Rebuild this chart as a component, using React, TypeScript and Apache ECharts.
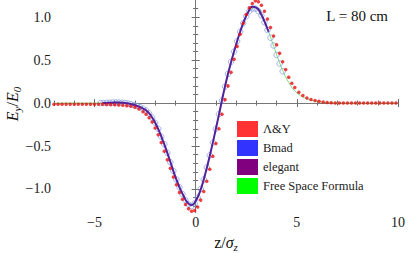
import React, { useEffect, useRef } from "react";
import * as echarts from "echarts";

// A&Y (red dots)
const ayZ = [-7, -6.8, -6.6, -6.4, -6.2, -6, -5.8, -5.6, -5.4, -5.2, -5, -4.8, -4.6, -4.4, -4.2, -4, -3.8, -3.6, -3.4, -3.2, -3, -2.8,
  -2.6, -2.45, -2.3, -2.15, -2.0, -1.85, -1.7, -1.55, -1.4, -1.25, -1.1, -0.95, -0.8, -0.65, -0.5, -0.35, -0.2, -0.05,
  0.1, 0.25, 0.4, 0.55, 0.7, 0.85, 1.0, 1.15, 1.3, 1.45, 1.6, 1.75, 1.9, 2.05, 2.2, 2.35, 2.5, 2.65, 2.8, 2.95,
  3.1, 3.25, 3.4, 3.55, 3.7, 3.85, 4.0, 4.15, 4.3, 4.45, 4.6, 4.75, 4.9,
  5.1, 5.3, 5.5, 5.7, 5.9, 6.1, 6.3, 6.5, 6.7, 6.9, 7.1, 7.3, 7.5, 7.7, 7.9, 8.1, 8.3, 8.5, 8.7, 8.9, 9.1, 9.3, 9.5, 9.7, 9.9];
const ayV = [-0.015, -0.015, -0.015, -0.015, -0.015, -0.015, -0.015, -0.015, -0.015, -0.015, -0.015, -0.015, -0.015, -0.016, -0.018, -0.02, -0.022, -0.025, -0.03, -0.038, -0.05, -0.07,
  -0.1, -0.13, -0.17, -0.22, -0.29, -0.37, -0.46, -0.56, -0.66, -0.76, -0.86, -0.95, -1.04, -1.12, -1.18, -1.23, -1.26, -1.25,
  -1.21, -1.13, -1.03, -0.91, -0.77, -0.62, -0.47, -0.3, -0.13, 0.04, 0.2, 0.36, 0.51, 0.66, 0.8, 0.93, 1.03, 1.11, 1.16, 1.19,
  1.18, 1.14, 1.07, 0.98, 0.88, 0.78, 0.68, 0.58, 0.48, 0.39, 0.3, 0.23, 0.18,
  0.125, 0.088, 0.06, 0.042, 0.03, 0.02, 0.012, 0.007, 0.003, 0.001, 0, 0, 0, 0, 0, 0, 0, 0, 0, 0, 0, 0, 0, 0, 0];

// Bmad (blue open circles)
const bmadZ = [-4.7, -4.55, -4.4, -4.25, -4.1, -3.95, -3.8, -3.65, -3.5, -3.35, -3.2, -3.05, -2.9, -2.75, -2.6, -2.45, -2.3, -2.15,
  -2.0, -1.85, -1.7, -1.55, -1.4, -1.25, -1.1, -0.95, -0.8, -0.65, -0.5, -0.35, -0.2, -0.05, 0.1, 0.25, 0.4, 0.55, 0.7, 0.85,
  1.0, 1.15, 1.3, 1.45, 1.6, 1.75, 1.9, 2.05, 2.2, 2.35, 2.5, 2.65, 2.8, 2.95, 3.1, 3.25, 3.4, 3.55, 3.7, 3.85, 4.0, 4.15, 4.3];
const bmadV = [0, 0, 0.002, 0.004, 0.006, 0.007, 0.006, 0.004, 0.001, -0.005, -0.012, -0.022, -0.033, -0.047, -0.065, -0.087, -0.12, -0.17,
  -0.23, -0.3, -0.39, -0.48, -0.58, -0.69, -0.79, -0.89, -0.98, -1.06, -1.13, -1.18, -1.2, -1.17, -1.1, -1.0, -0.89, -0.75, -0.61, -0.46,
  -0.3, -0.13, 0.03, 0.19, 0.34, 0.48, 0.6, 0.72, 0.83, 0.93, 1.01, 1.07, 1.1, 1.1, 1.07, 1.02, 0.94, 0.85, 0.76, 0.67, 0.56, 0.46, 0.37];

// elegant (purple line)
const elZ = [-4.6, -4.4, -4.2, -4.0, -3.8, -3.6, -3.4, -3.2, -3.0, -2.8, -2.6, -2.4, -2.2, -2.0, -1.8, -1.6, -1.4, -1.2, -1.0, -0.8, -0.6,
  -0.4, -0.2, 0.0, 0.2, 0.4, 0.6, 0.8, 1.0, 1.2, 1.4, 1.6, 1.8, 2.0, 2.2, 2.4, 2.6, 2.8, 3.0, 3.2, 3.4, 3.6];
const elV = [0, 0.002, 0.004, 0.006, 0.006, 0.004, -0.002, -0.012, -0.025, -0.042, -0.065, -0.095, -0.15, -0.23, -0.33, -0.45, -0.58, -0.72, -0.86, -0.98, -1.08,
  -1.16, -1.19, -1.14, -1.04, -0.89, -0.71, -0.51, -0.3, -0.08, 0.14, 0.34, 0.52, 0.68, 0.83, 0.96, 1.06, 1.12, 1.11, 1.05, 0.95, 0.83];

// Free Space Formula (green line)
const fsZ = [-7, -6, -5, -4.6, -4.2, -3.8, -3.4, -3.0, -2.6, -2.2, -1.8, -1.4, -1.0, -0.6, -0.2, 0.2, 0.6, 1.0, 1.4, 1.8, 2.2, 2.6, 3.0,
  3.4, 3.8, 4.2, 4.6, 5.0, 5.4, 5.8, 6.2, 6.6, 7, 8, 9, 10];
const fsV = [0, 0, 0, 0, 0.004, 0.006, -0.002, -0.025, -0.065, -0.15, -0.33, -0.58, -0.86, -1.08, -1.19, -1.04, -0.71, -0.3, 0.14, 0.52, 0.83, 1.06, 1.11,
  0.95, 0.7, 0.44, 0.24, 0.12, 0.06, 0.028, 0.012, 0.005, 0.002, 0, 0, 0];

// ticks
const xMajor = [-5, 0, 5, 10];
const xMinor = [-7, -6, -4, -3, -2, -1, 1, 2, 3, 4, 6, 7, 8, 9];
const yMajor = [-1, -0.5, 0, 0.5, 1];
const yMinor = [-1.2, -1.1, -0.9, -0.8, -0.7, -0.6, -0.4, -0.3, -0.2, -0.1, 0.1, 0.2, 0.3, 0.4, 0.6, 0.7, 0.8, 0.9, 1.1];

const SERIF = "Liberation Serif";
const tickRich = { t: { fontFamily: SERIF, fontSize: 14, color: "#1a1a1a" } };

function zip(a: number[], b: number[]) {
  return a.map((v, i) => [v, b[i]]);
}

function makeX(position: string, vals: number[], len: number, lineColor: string, showLine: boolean, labels: boolean) {
  return {
    type: "value",
    position,
    min: -7,
    max: 10,
    axisLine: { show: showLine, lineStyle: { color: lineColor, width: 1 } },
    axisTick: { show: true, inside: true, length: len, customValues: vals, lineStyle: { color: "#6a6a6a", width: 1 } },
    axisLabel: {
      show: labels,
      customValues: vals,
      margin: 2,
      fontFamily: SERIF,
      fontSize: 14,
      color: "#1a1a1a",
      rich: tickRich,
      formatter: (v: number) => "{t|" + String(v).replace("-", "\u2212") + "}",
    },
    splitLine: { show: false },
  };
}

function makeY(position: string, vals: number[], len: number, lineColor: string, showLine: boolean, labels: boolean) {
  return {
    type: "value",
    position,
    min: -1.28,
    max: 1.2,
    axisLine: { show: showLine, lineStyle: { color: lineColor, width: 1 } },
    axisTick: { show: true, inside: true, length: len, customValues: vals, lineStyle: { color: "#6a6a6a", width: 1 } },
    axisLabel: {
      show: labels,
      customValues: vals,
      margin: 3,
      fontFamily: SERIF,
      fontSize: 14,
      color: "#1a1a1a",
      rich: tickRich,
      formatter: (v: number) => "{t|" + v.toFixed(1).replace("-", "\u2212") + "}",
    },
    splitLine: { show: false },
  };
}

export default function App() {
  const ref = useRef<HTMLDivElement>(null);
  useEffect(() => {
    if (!ref.current) return;
    const chart = echarts.init(ref.current, null, { renderer: "svg" });
    const option: any = {
      animation: false,
      backgroundColor: "#ffffff",
      textStyle: { fontFamily: SERIF },
      grid: { left: 54, right: 17, top: 0, bottom: 40 },
      xAxis: [
        makeX("bottom", xMajor, 4, "#8a8a8a", true, true),
        makeX("bottom", xMinor, 2.5, "#8a8a8a", false, false),
        makeX("top", xMajor, 4, "#eeeeee", true, false),
        makeX("top", xMinor, 2.5, "#eeeeee", false, false),
      ],
      yAxis: [
        makeY("left", yMajor, 4, "#e4e4e4", true, true),
        makeY("left", yMinor, 2.5, "#e4e4e4", false, false),
        makeY("right", yMajor, 4, "#eeeeee", true, false),
        makeY("right", yMinor, 2.5, "#eeeeee", false, false),
      ],
      legend: {
        orient: "vertical",
        left: 232,
        top: 116,
        itemWidth: 21,
        itemHeight: 16,
        itemGap: 3,
        icon: "rect",
        selectedMode: false,
        textStyle: { fontFamily: SERIF, fontSize: 12.5, color: "#222" },
        data: [
          { name: "\u039B&Y", itemStyle: { color: "#ff0000", borderWidth: 0 } },
          { name: "Bmad", itemStyle: { color: "#0000ff", borderWidth: 0 } },
          { name: "elegant", itemStyle: { color: "#800080", borderWidth: 0 } },
          { name: "Free Space Formula", itemStyle: { color: "#00ff00", borderWidth: 0 } },
        ],
      },
      series: [
        {
          name: "Free Space Formula",
          type: "line",
          data: zip(fsZ, fsV),
          symbol: "none",
          smooth: true,
          lineStyle: { color: "#7fdc7f", width: 1 },
          itemStyle: { color: "#00ff00" },
          z: 2,
          markLine: {
            silent: true,
            z: 1,
            symbol: ["none", "none"],
            label: { show: false },
            lineStyle: { color: "#777777", width: 1, type: "solid" },
            data: [{ yAxis: 0 }, { xAxis: 0 }],
          },
        },
        {
          name: "Bmad",
          type: "scatter",
          data: zip(bmadZ, bmadV),
          symbol: "circle",
          symbolSize: 5.5,
          itemStyle: { color: "rgba(0,0,0,0)", borderColor: "#7f97dc", borderWidth: 0.9 },
          z: 3,
        },
        {
          name: "elegant",
          type: "line",
          data: zip(elZ, elV),
          symbol: "none",
          smooth: true,
          lineStyle: { color: "#52229c", width: 2 },
          itemStyle: { color: "#800080" },
          z: 4,
        },
        {
          name: "\u039B&Y",
          type: "scatter",
          data: zip(ayZ, ayV),
          symbol: "circle",
          symbolSize: 3.5,
          itemStyle: { color: "#e81212" },
          z: 5,
        },
      ],
      graphic: [
        {
          type: "text",
          x: 388,
          y: 16,
          style: { text: "L = 80 cm", font: `15px "${SERIF}"`, fill: "#111", align: "right", verticalAlign: "middle" },
        },
        {
          type: "text",
          x: 226,
          y: 242,
          style: {
            text: "{n|z/}{i|\u03C3}{s|z}",
            align: "center",
            verticalAlign: "middle",
            fill: "#111",
            rich: {
              n: { fontFamily: SERIF, fontSize: 16, lineHeight: 20, verticalAlign: "middle" },
              i: { fontFamily: SERIF, fontStyle: "italic", fontSize: 16, lineHeight: 20, verticalAlign: "middle" },
              s: { fontFamily: SERIF, fontStyle: "italic", fontSize: 11, lineHeight: 11, verticalAlign: "bottom" },
            },
          },
        },
        {
          type: "text",
          x: 12,
          y: 104,
          rotation: Math.PI / 2,
          style: {
            text: "{i|E}{s|y}{n|/}{i|E}{s|0}",
            align: "center",
            verticalAlign: "middle",
            fill: "#111",
            rich: {
              n: { fontFamily: SERIF, fontSize: 16, lineHeight: 20, verticalAlign: "middle" },
              i: { fontFamily: SERIF, fontStyle: "italic", fontSize: 16, lineHeight: 20, verticalAlign: "middle" },
              s: { fontFamily: SERIF, fontStyle: "italic", fontSize: 11, lineHeight: 11, verticalAlign: "bottom" },
            },
          },
        },
      ],
    };
    chart.setOption(option);
    return () => chart.dispose();
  }, []);
  return <div ref={ref} style={{ position: "fixed", left: 0, top: 0, width: 415, height: 253 }} />;
}
